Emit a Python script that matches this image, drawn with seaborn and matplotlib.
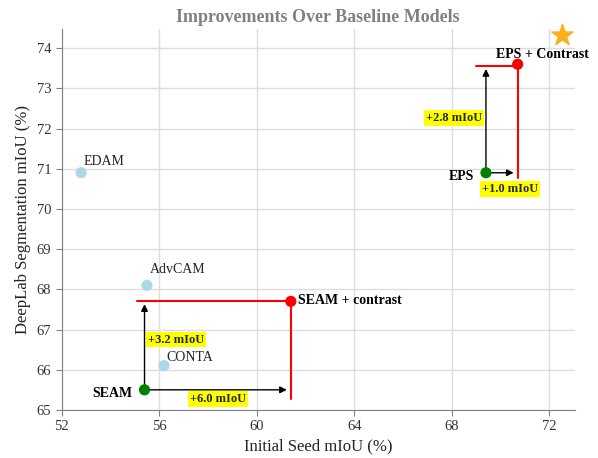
import numpy as np
import pandas as pd
import seaborn as sns
import matplotlib.pyplot as plt

# baseline methods (light blue)
base_names = ['EDAM', 'AdvCAM', 'CONTA']
base_x = [52.8, 55.5, 56.2]
base_y = [70.9, 68.1, 66.1]
base_dy = [0.28, 0.4, 0.2]  # label offsets

# methods we improve on, and the improved versions
orig_names = ['SEAM', 'EPS']
orig_x = [55.4, 69.4]
orig_y = [65.5, 70.9]
new_names = ['SEAM + contrast', 'EPS + Contrast']
new_x = [61.4, 70.7]
new_y = [67.7, 73.6]
gain_x = ['+6.0 mIoU', '+1.0 mIoU']
gain_y = ['+3.2 mIoU', '+2.8 mIoU']

star_x, star_y = 72.5, 74.33

sns.set_style("whitegrid")
plt.rcParams['font.family'] = ['Liberation Serif', 'DejaVu Serif']

fig = plt.figure(figsize=(5.98, 4.58), dpi=100)
ax = fig.add_axes([0.103, 0.105, 0.8585, 0.832])

base = pd.DataFrame({'x': base_x, 'y': base_y, 'name': base_names})
sns.scatterplot(data=base, x='x', y='y', color='lightblue', s=65, edgecolor='none', ax=ax, zorder=5)
for n, x, y, dy in zip(base_names, base_x, base_y, base_dy):
    ax.text(x + 0.1, y + dy, n, fontsize=10, color='#222222', ha='left', va='center')

# red guide lines
ax.plot([55.1, new_x[0]], [new_y[0], new_y[0]], color='red', lw=1.5, zorder=3)
ax.plot([new_x[0], new_x[0]], [new_y[0], 65.27], color='red', lw=1.5, zorder=3)
ax.plot([69.0, new_x[1]], [73.55, 73.55], color='red', lw=1.5, zorder=3)
ax.plot([new_x[1], new_x[1]], [new_y[1], 70.77], color='red', lw=1.5, zorder=3)

# black arrows
for i in range(2):
    ax.annotate('', xy=(new_x[i] - 0.05, orig_y[i]), xytext=(orig_x[i], orig_y[i]),
                arrowprops=dict(arrowstyle='-|>', color='black', lw=1, mutation_scale=10), zorder=4)
    top = new_y[i] if i == 0 else 73.55
    ax.annotate('', xy=(orig_x[i], top), xytext=(orig_x[i], orig_y[i]),
                arrowprops=dict(arrowstyle='-|>', color='black', lw=1, mutation_scale=10), zorder=4)

orig = pd.DataFrame({'x': orig_x, 'y': orig_y})
new = pd.DataFrame({'x': new_x, 'y': new_y})
sns.scatterplot(data=orig, x='x', y='y', color='green', s=65, edgecolor='none', ax=ax, zorder=6)
sns.scatterplot(data=new, x='x', y='y', color='red', s=65, edgecolor='none', ax=ax, zorder=6)

ax.scatter([star_x], [star_y], marker='*', s=260, color='#FBB117', zorder=6, clip_on=False)

bold = dict(fontsize=10, fontweight='bold', color='black')
hl = dict(boxstyle='square,pad=0.15', facecolor='yellow', edgecolor='none')
ax.text(54.9, 65.42, orig_names[0], ha='right', va='center', **bold)
ax.text(68.9, 70.8, orig_names[1], ha='right', va='center', **bold)
ax.text(61.7, 67.72, new_names[0], ha='left', va='center', **bold)
ax.text(71.7, 73.85, new_names[1], ha='center', va='center', **bold)
ax.text(58.4, 65.28, gain_x[0], ha='center', va='center', bbox=hl, fontsize=9, fontweight='bold')
ax.text(70.4, 70.5, gain_x[1], ha='center', va='center', bbox=hl, fontsize=9, fontweight='bold')
ax.text(55.55, 66.75, gain_y[0], ha='left', va='center', bbox=hl, fontsize=9, fontweight='bold')
ax.text(69.25, 72.27, gain_y[1], ha='right', va='center', bbox=hl, fontsize=9, fontweight='bold')

ax.set_xlim(52, 73.05)
ax.set_ylim(65, 74.48)
ax.set_xticks([52, 56, 60, 64, 68, 72])
ax.set_yticks(range(65, 75))
ax.grid(True, color='#dddddd', lw=1)
ax.set_axisbelow(True)
for s in ['top', 'right']:
    ax.spines[s].set_visible(False)
for s in ['left', 'bottom']:
    ax.spines[s].set_color('#7a8290')
ax.tick_params(axis='both', which='major', length=4, color='#7a8290', labelsize=10.5, labelcolor='#333333',
               left=True, bottom=True)
ax.set_xlabel('Initial Seed mIoU (%)', fontsize=12, color='#222222')
ax.set_ylabel('DeepLab Segmentation mIoU (%)', fontsize=12, color='#222222')
ax.set_title('Improvements Over Baseline Models', fontsize=13, fontweight='bold', color='#808080', pad=5)

plt.savefig('out.png', dpi=100)
